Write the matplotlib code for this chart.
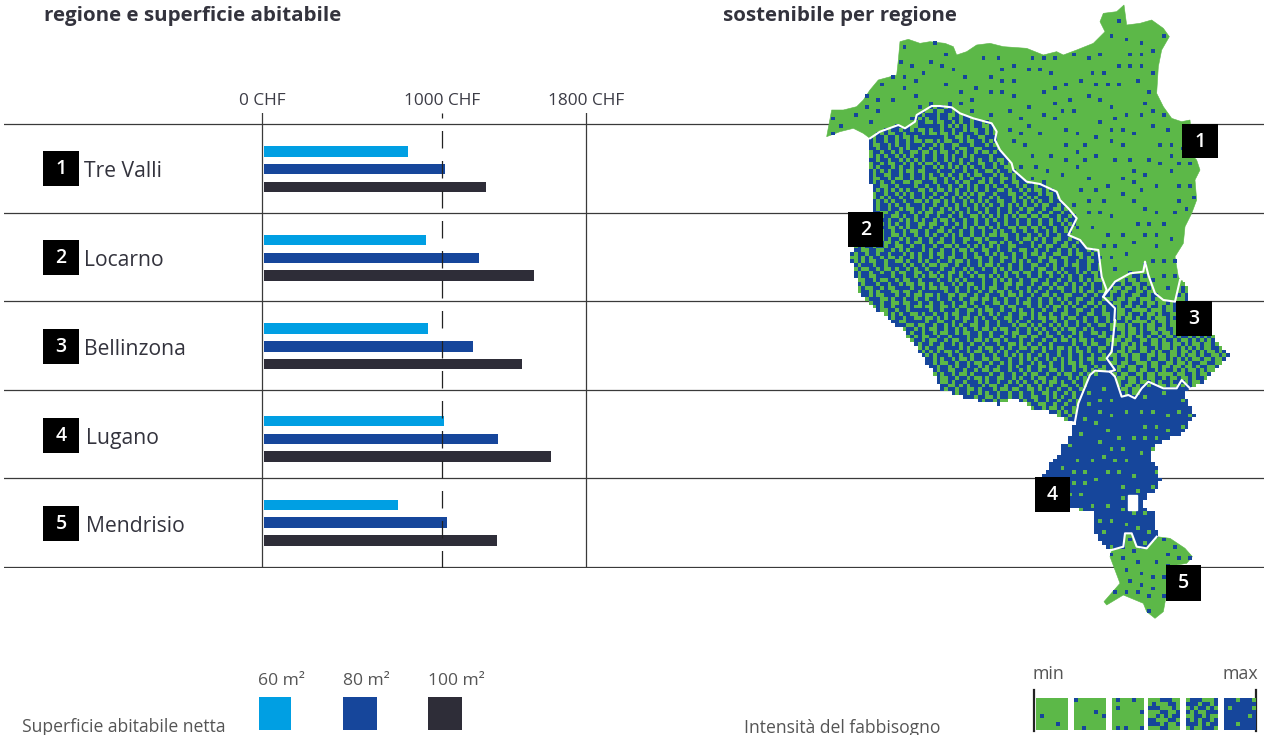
import numpy as np
import matplotlib
matplotlib.use("Agg")
import matplotlib.pyplot as plt
from matplotlib.patches import Polygon, Rectangle
from matplotlib.path import Path
from matplotlib.colors import ListedColormap

# ---------- data ----------
regions = ["Tre Valli", "Locarno", "Bellinzona", "Lugano", "Mendrisio"]
numbers = ["1", "2", "3", "4", "5"]
chf_60 = [808, 908, 919, 1008, 753]
chf_80 = [1014, 1203, 1169, 1308, 1028]
chf_100 = [1242, 1508, 1442, 1603, 1303]
tick_vals = [0, 1000, 1800]
tick_labels = ["0 CHF", "1000 CHF", "1800 CHF"]
size_labels = ["60 m²", "80 m²", "100 m²"]
intensity = [0.06, 0.58, 0.44, 0.93, 0.09]   # share of blue cells in regions 1..5

# map outlines
def z1(pts):
    return [(820 + x / 3, y / 3) for x, y in pts]
def z2(pts):
    return [(1000 + x / 3, 300 + y / 3) for x, y in pts]

border_12 = z1([(150, 415), (180, 395), (235, 375), (255, 385), (285, 365), (290, 345), (335, 318), (360, 318),
                (395, 322), (420, 340), (460, 355), (515, 370), (530, 395), (525, 420), (540, 450), (575, 490),
                (580, 510), (620, 545), (660, 552), (710, 575), (720, 600), (745, 625), (770, 655), (745, 705),
                (780, 720), (800, 745), (835, 750), (845, 830), (860, 870), (850, 890)])
border_13 = z1([(850, 890), (870, 865), (885, 845), (930, 820), (970, 815), (975, 785), (985, 825), (1005, 880),
                (1030, 900), (1065, 905), (1080, 840)])
border_23 = z1([(850, 890), (885, 925), (883, 960)]) + z2([(345, 60), (335, 155), (320, 175), (345, 210), (330, 215)])
border_24 = z2([(330, 215), (285, 212), (270, 225), (235, 310), (225, 365)])
border_34 = z2([(330, 215), (345, 230), (365, 290), (385, 285), (405, 295), (425, 265), (445, 245), (490, 265),
                (530, 265), (545, 240), (570, 265)])
border_45 = z2([(335, 750), (370, 740), (375, 700), (395, 700), (410, 740), (440, 745), (470, 710)])

north_1 = z1([(150, 415), (130, 400), (100, 385), (60, 395), (20, 410), (35, 330), (70, 330), (110, 320), (130, 300),
              (150, 270), (175, 240), (230, 225), (235, 180), (240, 125), (265, 118), (300, 130), (330, 125), (375, 130),
              (400, 140), (410, 165), (440, 155), (470, 135), (510, 130), (550, 140), (620, 145), (670, 165), (710, 155),
              (730, 165), (770, 150), (820, 130), (855, 95), (840, 65), (850, 40), (890, 35), (912, 15), (920, 75),
              (960, 70), (995, 60), (1030, 85), (1048, 110), (1025, 150), (1015, 200), (1010, 280), (1030, 320),
              (1055, 355), (1085, 365), (1110, 360), (1120, 470), (1130, 480), (1140, 510), (1125, 540), (1130, 600),
              (1115, 640), (1095, 680), (1090, 730), (1065, 770), (1075, 830), (1080, 840)])
west_2 = [(870, 139), (867, 160), (871, 187), (872, 215), (850, 255), (858, 285), (860, 295), (880, 312), (905, 332),
          (928, 365), (942, 390), (975, 400), (1000, 405)] + z2([(40, 290), (80, 315), (100, 330), (130, 330), (170, 345),
                                                                 (215, 370), (225, 365)])
east_3 = [(1180, 280), (1187, 285), (1188, 297), (1212, 335)] + z2([(660, 140), (688, 165), (650, 200), (625, 235), (570, 265)])
east_4 = z2([(570, 265), (555, 285), (575, 320), (585, 350), (560, 380), (550, 400), (520, 410), (490, 425), (465, 435),
             (450, 480), (475, 510), (485, 540), (465, 570), (440, 580), (435, 605), (415, 610), (465, 640), (470, 700),
             (470, 710)])
west_4 = z2([(335, 750), (325, 750), (290, 710), (280, 660), (280, 640), (240, 630), (210, 620), (125, 530), (150, 495),
             (175, 470), (185, 435), (205, 430), (220, 380), (225, 365)])
hole_4 = z2([(385, 585), (412, 585), (412, 630), (385, 630)])
south_5 = z2([(470, 710), (510, 715), (555, 745), (577, 770), (560, 790), (500, 800), (500, 880), (490, 935), (465, 955),
              (440, 935), (430, 910), (370, 885), (320, 915), (312, 905), (360, 850), (345, 810), (330, 770), (335, 750)])

outline_1 = north_1 + border_13[::-1] + border_12[::-1]
outline_2 = border_12 + border_23 + border_24 + west_2[::-1]
outline_3 = border_13 + east_3 + border_34[::-1] + border_23[::-1]
outline_4 = border_24[::-1] + west_4[::-1] + border_45 + east_4[::-1] + border_34[::-1]
outline_5 = border_45 + south_5

swatches = [
    ["........", "........", "........", "........", ".#......", "........", ".....#..", "........"],
    ["#.......", "........", "........", ".....#..", ".......#", "........", "........", "..#....."],
    [".#...#..", "........", ".#......", ".......#", "........", "........", "........", ".#.#...#"],
    ["...###..", ".#...##.", "###...#.", "...##..#", "..#.#.##", "##...##.", "###.#..#", "...##..."],
    [".###...#", "###.##.#", ".#.##.#.", "#.#..###", "..##.#..", "#.#.##.#", "###.#.##", ".#..###."],
    ["###.###.", "########", "#.#####.", "########", "######.#", "########", "###.####", "########"],
]

# ---------- style ----------
C_LIGHT, C_MID, C_DARK = "#009fe3", "#16469b", "#2e2d38"
C_GREEN = "#5cb848"
TXT = "#33333d"
FONT = "Open Sans"
W, H = 1264, 735
plt.rcParams["font.family"] = [FONT, "DejaVu Sans"]
fig = plt.figure(figsize=(W / 100, H / 100), dpi=100)

# ---------- bars ----------
PX_PER_CHF = 0.1798
X0 = 262.4
top, bottom, pitch, first = 113, 567.5, 88.6, 168.3
ax = fig.add_axes([4 / W, 1 - bottom / H, (W - 4) / W, (bottom - top) / H])
ax.set_xlim((4 - X0) / PX_PER_CHF, (W - X0) / PX_PER_CHF)
ax.set_ylim((bottom - first) / pitch, (top - first) / pitch)
for s in ax.spines.values():
    s.set_visible(False)
ax.patch.set_alpha(0)
bar_left = 8
row_shift = np.array([0.01, 0.01, 0.01, 0.055, 0.0])
for vals, off, c in zip([chf_60, chf_80, chf_100], [-0.2, 0, 0.2], [C_LIGHT, C_MID, C_DARK]):
    y = np.arange(len(regions)) + off + row_shift
    ax.barh(y, np.array(vals) - bar_left, left=bar_left, height=0.118, color=c, zorder=3)
for i in range(len(regions) + 1):
    ax.axhline(i - 0.5, color="#3a3a3a", lw=0.9, zorder=1)
ax.axvline(0, color="#3a3a3a", lw=0.9, zorder=2)
ax.axvline(1800, color="#3a3a3a", lw=0.9, zorder=2)
ax.axvline(1000, color="#222222", lw=0.9, zorder=4, dashes=(14, 10))
ax.xaxis.tick_top()
ax.set_xticks(tick_vals)
ax.set_xticklabels(tick_labels, fontsize=12.4, color="#3c3c46")
ax.tick_params(axis="x", length=0, pad=3)
ax.set_yticks([])

# ---------- overlay in picture units ----------
ov = fig.add_axes([0, 0, 1, 1], zorder=5)
ov.set_xlim(0, W)
ov.set_ylim(H, 0)
ov.axis("off")
ov.patch.set_alpha(0)

cell = 3.76
gx = np.arange(820, 1240, cell)
gy = np.arange(0, 625, cell)
I, J = np.meshgrid(np.arange(len(gx)), np.arange(len(gy)))
cx, cy = np.meshgrid(gx + cell / 2, gy + cell / 2)
centers = np.column_stack([cx.ravel(), cy.ravel()])
ex, ey = np.append(gx, gx[-1] + cell), np.append(gy, gy[-1] + cell)
cmap2 = ListedColormap([C_GREEN, C_MID])

KERNEL = [(1, 0, 7), (2, 0, 5),
          (-2, 1, 3), (-1, 1, 5), (0, 1, 7), (1, 1, 5), (2, 1, 3),
          (-2, 2, 1), (-1, 2, 3), (0, 2, 5), (1, 2, 3), (2, 2, 1)]


def dither(level):
    """error diffusion of one tone level over the map grid"""
    v = level + 0.05 * np.sin(I * 0.37 + J * 0.11) * np.cos(J * 0.29 - I * 0.13)
    out = np.zeros_like(v, dtype=bool)
    ny, nx = v.shape
    for j in range(ny):
        for i in range(nx):
            new = v[j, i] >= 0.5
            out[j, i] = new
            e = (v[j, i] - new) / 48
            for dx, dy, w in KERNEL:
                a, b = i + dx, j + dy
                if 0 <= a < nx and b < ny:
                    v[b, a] += e * w
    return out


def fill_cells(outline, level):
    inside = Path(outline).contains_points(centers).reshape(I.shape)
    ov.pcolormesh(ex, ey, np.ma.masked_where(~inside, dither(level).astype(float)), cmap=cmap2, vmin=0, vmax=1,
                  zorder=2, shading="flat", edgecolors="none", antialiased=False)


def fill_dots(outline, level, base):
    ov.add_patch(Polygon(outline, closed=True, fc=base, ec=base, lw=0.4, zorder=1))
    inside = Path(outline).contains_points(centers).reshape(I.shape)
    d = dither(level)
    ov.pcolormesh(ex, ey, np.ma.masked_where(~(inside & d), d.astype(float)), cmap=cmap2, vmin=0, vmax=1,
                  zorder=2, shading="flat", edgecolors="none", antialiased=False)


# seams under the cell regions, so that no background shows along the inner borders
for b, c in [(border_12, C_MID), (border_23, C_MID), (border_24, C_MID), (border_13, C_GREEN),
             (border_34, C_MID), (border_45, C_MID)]:
    xs, ys = zip(*b)
    ov.plot(xs, ys, color=c, lw=4.5, zorder=0.5, solid_capstyle="butt")

fill_dots(outline_1, intensity[0], C_GREEN)
fill_cells(outline_2, intensity[1])
fill_cells(outline_3, intensity[2])
fill_cells(outline_4, intensity[3])
fill_dots(outline_5, intensity[4], C_GREEN)
ov.add_patch(Polygon(hole_4, closed=True, fc="white", ec="white", zorder=3))
for b in [border_12, border_13, border_23, border_24, border_34, border_45]:
    xs, ys = zip(*b)
    ov.plot(xs, ys, color="white", lw=1.5, zorder=4, solid_joinstyle="round")


def box(x0, y0, x1, y1, txt):
    ov.add_patch(Rectangle((x0, y0), x1 - x0, y1 - y0, fc="black", ec="none", zorder=6))
    ov.text((x0 + x1) / 2, (y0 + y1) / 2 + 0.5, txt, color="white", fontsize=14, ha="center", va="center",
            fontweight="semibold", zorder=7)


map_boxes = [(1182, 124, 1218, 158), (848, 212, 883, 247), (1176, 301, 1212, 336), (1035, 477, 1070, 512), (1166, 565, 1201, 601)]
for b, n in zip(map_boxes, numbers):
    box(*b, n)
left_boxes_y = [151, 240, 329, 418, 506]
label_x = [84, 84, 84, 86, 86]
for y0, n, name, lx in zip(left_boxes_y, numbers, regions, label_x):
    box(43, y0, 79, y0 + 35, n)
    ov.text(lx, y0 + 20, name, fontsize=15.2, color=TXT, ha="left", va="center")

ov.text(44, 16, "regione e superficie abitabile", fontsize=14.75, fontweight="bold", color=TXT, va="center")
ov.text(723, 16, "sostenibile per regione", fontsize=14.75, fontweight="bold", color=TXT, va="center")

# legends
GRAY = "#555555"
ov.text(22, 727, "Superficie abitabile netta", fontsize=12.65, color=GRAY, va="center")
for x0, x1, lab, c in zip([258.5, 343, 428], [291, 377, 462], size_labels, [C_LIGHT, C_MID, C_DARK]):
    ov.add_patch(Rectangle((x0, 697), x1 - x0, 33, fc=c, ec="none"))
    ov.text(x0, 681, lab, fontsize=12.6, color=GRAY, va="center")
ov.text(744, 728, "Intensità del fabbisogno", fontsize=12.65, color=GRAY, va="center")
ov.text(1033, 674, "min", fontsize=12.8, color=GRAY, va="center")
ov.text(1258, 674, "max", fontsize=12.8, color=GRAY, va="center", ha="right")
ov.plot([1034, 1034], [690, 731], color="#222222", lw=1.6)
ov.plot([1256, 1256], [690, 731], color="#222222", lw=1.6)
for x0, pat in zip([1035.5, 1074, 1112, 1148, 1186, 1224], swatches):
    arr = np.array([[ch == "#" for ch in row] for row in pat], dtype=float)
    ov.imshow(arr, extent=(x0, x0 + 32, 730, 698), cmap=cmap2, vmin=0, vmax=1, interpolation="nearest",
              aspect="auto", zorder=2)
ov.set_xlim(0, W)
ov.set_ylim(H, 0)

fig.savefig("out.png", dpi=100)
